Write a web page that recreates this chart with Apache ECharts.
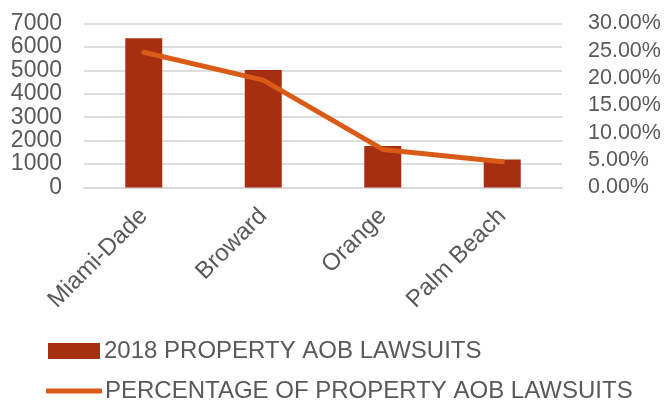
<!DOCTYPE html>
<html><head><meta charset="utf-8">
<script src="https://cdn.jsdelivr.net/npm/echarts@6/dist/echarts.min.js"></script>
<style>html,body{margin:0;padding:0;background:#fff}#c{width:665px;height:402px}</style>
</head><body><div id="c"></div>
<script>
var categories = ['Miami-Dade', 'Broward', 'Orange', 'Palm Beach'];
var lawsuits = [6370, 5010, 1770, 1200];
var percentages = [0.2473, 0.1965, 0.0696, 0.0469];
var barName = '2018 PROPERTY AOB LAWSUITS';
var lineName = 'PERCENTAGE OF PROPERTY AOB LAWSUITS';

var font = '"Liberation Sans", Arial, sans-serif';
var txt = '#595959';
var chart = echarts.init(document.getElementById('c'));
chart.setOption({
  animation: false,
  textStyle: {fontFamily: font},
  grid: {left: 84, right: 103, top: 23.5, bottom: 214.5, containLabel: false},
  legend: [
    {data: [{name: barName, icon: 'rect'}], left: 48, top: 339, padding: 0, itemWidth: 52, itemHeight: 16, itemGap: 0,
     textStyle: {color: txt, fontSize: 24, fontFamily: font, padding: [0, 0, 0, -1]}},
    {data: [{name: lineName, icon: 'roundRect'}], left: 46, top: 379, padding: 0, itemWidth: 56, itemHeight: 5, itemGap: 0,
     textStyle: {color: txt, fontSize: 24, fontFamily: font, padding: [0, 0, 0, -2]}}
  ],
  xAxis: {
    type: 'category', data: categories,
    axisLine: {lineStyle: {color: '#D9D9D9', width: 2}},
    axisTick: {show: false},
    axisLabel: {rotate: 45, color: txt, fontSize: 24, fontFamily: font, margin: 25, interval: 0}
  },
  yAxis: [
    {type: 'value', min: 0, max: 7000, interval: 1000,
     axisLine: {show: false}, axisTick: {show: false},
     axisLabel: {color: txt, fontSize: 23, fontFamily: font, margin: 22,
       formatter: function (v) { return String(v); }},
     splitLine: {lineStyle: {color: '#DEDEDE', width: 2}}},
    {type: 'value', min: 0, max: 0.30, interval: 0.05, position: 'right',
     axisLine: {show: false}, axisTick: {show: false},
     axisLabel: {color: txt, fontSize: 21.5, fontFamily: font, margin: 26,
       formatter: function (v) { return (v * 100).toFixed(2) + '%'; }},
     splitLine: {show: false}}
  ],
  series: [
    {name: barName, type: 'bar', data: lawsuits, barWidth: 37, itemStyle: {color: '#A52F10'}},
    {name: lineName, type: 'line', yAxisIndex: 1, data: percentages, showSymbol: false, symbol: 'none',
     lineStyle: {color: '#D95B17', width: 5, cap: 'round'}, itemStyle: {color: '#D95B17'}}
  ]
});
</script></body></html>
